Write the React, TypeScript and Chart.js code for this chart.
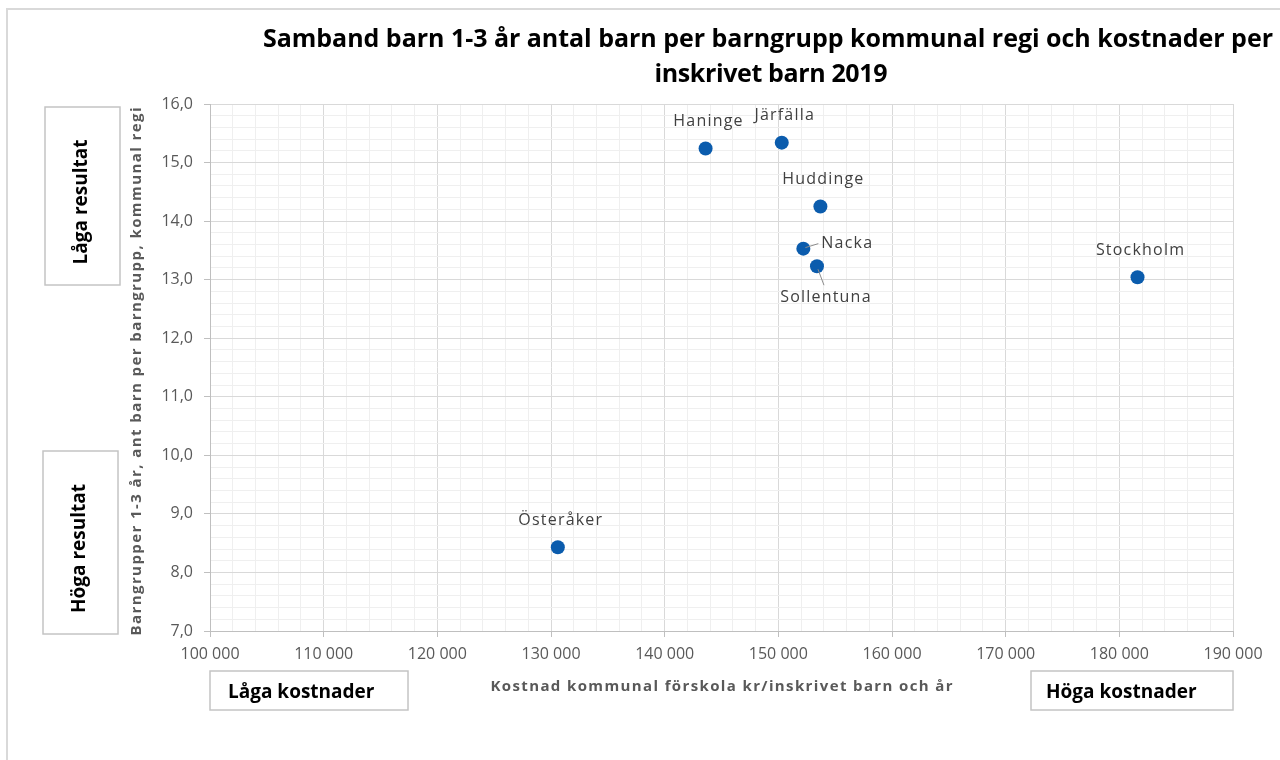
import React, { useEffect, useRef } from 'react';
import { Chart, registerables } from 'chart.js';

Chart.register(...registerables);

// ---- data ----
const municipalities = ['Haninge', 'Järfälla', 'Huddinge', 'Nacka', 'Sollentuna', 'Stockholm', 'Österåker'];
const costPerChild = [143600, 150300, 153700, 152200, 153400, 181600, 130600];
const childrenPerGroup = [15.24, 15.34, 14.25, 13.53, 13.23, 13.04, 8.43];
const labelPlacement = ['above', 'above', 'above', 'right', 'below', 'above', 'above'];

const titleLines = [
  'Samband barn 1-3 år antal barn per barngrupp kommunal regi och kostnader per',
  'inskrivet barn 2019',
];
const xAxisTitle = 'Kostnad kommunal förskola kr/inskrivet barn och år';
const yAxisTitle = 'Barngrupper 1-3 år, ant barn per barngrupp, kommunal regi';
const resultLabels = ['Låga resultat', 'Höga resultat'];
const costLabels = ['Låga kostnader', 'Höga kostnader'];

const xMin = 100000, xMax = 190000, xMajor = 10000, xMinor = 2000;
const yMin = 7, yMax = 16, yMajor = 1, yMinor = 0.2;

const FONT = '"Open Sans", "Noto Sans", sans-serif';
const POINT_COLOR = '#0b5cad';
const LABEL_COLOR = '#404040';
const AXIS_TEXT = '#595959';

const isMajor = (v: number, step: number) => Math.abs(v / step - Math.round(v / step)) < 1e-6;
const fmtThousands = (v: number) => String(Math.round(v)).replace(/\B(?=(\d{3})+(?!\d))/g, ' ');

function fitText(ctx: CanvasRenderingContext2D, text: string, x: number, y: number, target: number, font: string, align: 'center' | 'left') {
  ctx.font = font;
  (ctx as any).letterSpacing = '0px';
  const w = ctx.measureText(text).width;
  const n = Array.from(text).length;
  const sp = Math.max(-1.5, Math.min(4, (target - w) / Math.max(1, n - 1)));
  (ctx as any).letterSpacing = sp + 'px';
  const total = w + sp * (n - 1);
  const x0 = align === 'center' ? x - total / 2 : x;
  ctx.textAlign = 'left';
  ctx.fillText(text, x0, y);
  (ctx as any).letterSpacing = '0px';
}

const decorPlugin = {
  id: 'decor',
  afterDraw(chart: any) {
    const { ctx, chartArea } = chart;
    const xs = chart.scales.x;
    const ys = chart.scales.y;
    const { left, right, top, bottom } = chartArea;
    ctx.save();

    // outer border
    ctx.strokeStyle = '#d9d9d9';
    ctx.lineWidth = 2;
    ctx.beginPath();
    ctx.moveTo(7, 760);
    ctx.lineTo(7, 9);
    ctx.lineTo(1280, 9);
    ctx.stroke();

    // title
    ctx.fillStyle = '#000';
    ctx.textBaseline = 'middle';
    fitText(ctx, titleLines[0], 768, 40, 1010, `bold 25px ${FONT}`, 'center');
    fitText(ctx, titleLines[1], 771, 75, 233, `bold 25px ${FONT}`, 'center');

    // axis titles
    ctx.fillStyle = AXIS_TEXT;
    fitText(ctx, xAxisTitle, (left + right) / 2, 687, 462, `bold 15px ${FONT}`, 'center');
    ctx.save();
    ctx.translate(137, (top + bottom) / 2 + 4);
    ctx.rotate(-Math.PI / 2);
    fitText(ctx, yAxisTitle, 0, 0, 528, `bold 15px ${FONT}`, 'center');
    ctx.restore();

    // boxes
    ctx.strokeStyle = '#c4c4c4';
    ctx.lineWidth = 1.5;
    ctx.fillStyle = '#000';
    const boxFont = `bold 19px ${FONT}`;
    // result boxes (vertical)
    const rBoxes = [
      { x: 45, y: 107, w: 75, h: 178 },
      { x: 43, y: 451, w: 75, h: 183 },
    ];
    rBoxes.forEach((b, i) => {
      ctx.strokeRect(b.x, b.y, b.w, b.h);
      ctx.save();
      ctx.translate(b.x + b.w / 2 - 1, b.y + b.h / 2 + 6);
      ctx.rotate(-Math.PI / 2);
      ctx.font = boxFont;
      ctx.textAlign = 'center';
      ctx.textBaseline = 'middle';
      ctx.fillText(resultLabels[i], 0, 0);
      ctx.restore();
    });
    // cost boxes (horizontal)
    const cBoxes = [
      { x: left, y: 671, w: 198, h: 39, tx: left + 18 },
      { x: right - 202, y: 671, w: 202, h: 39, tx: right - 187 },
    ];
    cBoxes.forEach((b, i) => {
      ctx.strokeRect(b.x, b.y, b.w, b.h);
      ctx.font = boxFont;
      ctx.textAlign = 'left';
      ctx.textBaseline = 'middle';
      ctx.fillText(costLabels[i], b.tx, b.y + b.h / 2 + 2);
    });

    // data labels
    ctx.fillStyle = LABEL_COLOR;
    ctx.strokeStyle = '#8c8c8c';
    ctx.lineWidth = 1;
    const lblFont = `16px ${FONT}`;
    municipalities.forEach((name, i) => {
      const px = xs.getPixelForValue(costPerChild[i]);
      const py = ys.getPixelForValue(childrenPerGroup[i]);
      ctx.font = lblFont;
      (ctx as any).letterSpacing = '1.2px';
      ctx.textBaseline = 'middle';
      const place = labelPlacement[i];
      if (place === 'above') {
        ctx.textAlign = 'center';
        ctx.fillText(name, px + 3, py - 27);
      } else if (place === 'right') {
        ctx.beginPath();
        ctx.moveTo(px + 2, py - 1);
        ctx.lineTo(px + 15, py - 5);
        ctx.stroke();
        ctx.textAlign = 'left';
        ctx.fillText(name, px + 18, py - 5);
      } else {
        ctx.beginPath();
        ctx.moveTo(px + 1, py + 3);
        ctx.lineTo(px + 7, py + 19);
        ctx.stroke();
        ctx.textAlign = 'center';
        ctx.fillText(name, px + 9, py + 31);
      }
      (ctx as any).letterSpacing = '0px';
    });

    ctx.restore();
  },
};

export default function App() {
  const canvasRef = useRef<HTMLCanvasElement | null>(null);

  useEffect(() => {
    document.body.style.margin = '0';
    const canvas = canvasRef.current;
    if (!canvas) return;
    const chart = new Chart(canvas, {
      type: 'scatter',
      data: {
        datasets: [
          {
            label: 'Kommuner',
            data: municipalities.map((_, i) => ({ x: costPerChild[i], y: childrenPerGroup[i] })),
            backgroundColor: POINT_COLOR,
            borderColor: POINT_COLOR,
            borderWidth: 0,
            pointRadius: 7,
            pointHoverRadius: 7,
          },
        ],
      },
      options: {
        responsive: false,
        animation: false,
        devicePixelRatio: 1,
        layout: { padding: { top: 104, right: 47, left: 0, bottom: 0 } },
        plugins: {
          legend: { display: false },
          title: { display: false },
          tooltip: { enabled: false },
        },
        scales: {
          x: {
            type: 'linear',
            min: xMin,
            max: xMax,
            afterFit: (scale: any) => {
              scale.height = 129;
            },
            ticks: {
              stepSize: xMinor,
              autoSkip: false,
              maxRotation: 0,
              minRotation: 0,
              padding: 8,
              color: AXIS_TEXT,
              font: { family: FONT, size: 16 },
              callback: (v: any) => (isMajor(Number(v), xMajor) ? fmtThousands(Number(v)) : ''),
            },
            grid: {
              lineWidth: 1,
              tickLength: 6,
              color: (c: any) => (c.tick && isMajor(c.tick.value, xMajor) ? '#d9d9d9' : '#efefef'),
              tickColor: (c: any) => (c.tick && isMajor(c.tick.value, xMajor) ? '#bfbfbf' : 'rgba(0,0,0,0)'),
            },
            border: { display: true, color: '#bfbfbf', width: 1 },
          },
          y: {
            type: 'linear',
            min: yMin,
            max: yMax,
            afterFit: (scale: any) => {
              scale.width = 210;
            },
            ticks: {
              stepSize: yMinor,
              autoSkip: false,
              padding: 11,
              color: AXIS_TEXT,
              font: { family: FONT, size: 16 },
              callback: (v: any) => (isMajor(Number(v), yMajor) ? Number(v).toFixed(1).replace('.', ',') : ''),
            },
            grid: {
              lineWidth: 1,
              tickLength: 6,
              color: (c: any) => (c.tick && isMajor(c.tick.value, yMajor) ? '#d9d9d9' : '#efefef'),
              tickColor: (c: any) => (c.tick && isMajor(c.tick.value, yMajor) ? '#bfbfbf' : 'rgba(0,0,0,0)'),
            },
            border: { display: true, color: '#bfbfbf', width: 1 },
          },
        },
      },
      plugins: [decorPlugin],
    });
    return () => chart.destroy();
  }, []);

  return (
    <div style={{ width: 1280, height: 760, background: '#fff' }}>
      <canvas ref={canvasRef} width={1280} height={760} style={{ display: 'block' }} />
    </div>
  );
}
